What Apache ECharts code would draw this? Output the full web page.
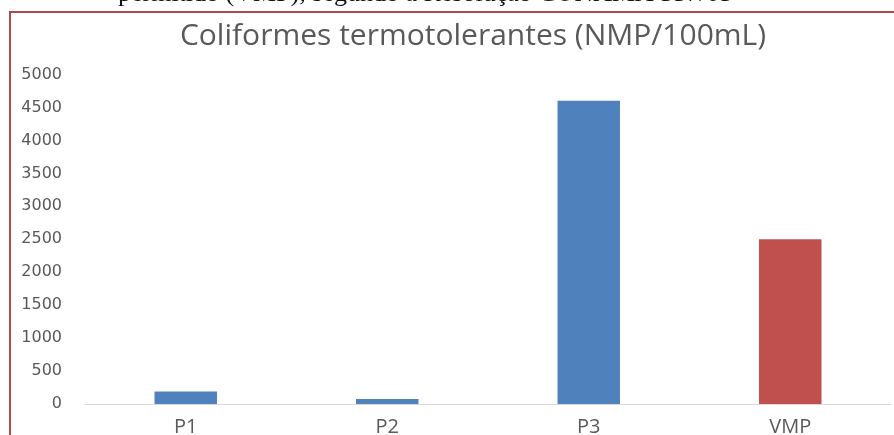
<!DOCTYPE html>
<html>
<head>
<meta charset="utf-8">
<script src="https://cdn.jsdelivr.net/npm/echarts@6/dist/echarts.min.js"></script>
<style>
html,body{margin:0;padding:0;background:#fff;}
#c{width:894px;height:435px;}
</style>
</head>
<body>
<div id="c"></div>
<script>
const categories = ['P1', 'P2', 'P3', 'VMP'];
const values = [190, 75, 4600, 2500];
const barColors = ['#4f81bd', '#4f81bd', '#4f81bd', '#c0504d'];
const yTicks = [0, 5000, 500];
const titleText = 'Coliformes termotolerantes (NMP/100mL)';
const captionText = 'permitido (VMP), segundo a Resolução CONAMA 357/05';

const chart = echarts.init(document.getElementById('c'), null, {renderer: 'canvas'});
chart.setOption({
  animation: false,
  backgroundColor: '#ffffff',
  title: {
    text: titleText,
    left: 468, top: 16, textAlign: 'center',
    textStyle: {fontFamily: 'Open Sans, sans-serif', fontSize: 30, fontWeight: 'normal', color: '#595959'}
  },
  graphic: [
    {type: 'rect', shape: {x: 10, y: 12, width: 900, height: 450}, style: {fill: 'none', stroke: '#b2484a', lineWidth: 2}, silent: true},
    {type: 'text', left: 118, top: -19, style: {text: captionText, font: '26px "Liberation Serif", serif', fill: '#111'}}
  ],
  grid: {left: 85, right: 3, top: 74.5, bottom: 31, containLabel: false, outerBoundsMode: 'none'},
  xAxis: {
    type: 'category', data: categories,
    axisLine: {show: true, lineStyle: {color: '#d9d9d9', width: 1}},
    axisTick: {show: false},
    axisLabel: {color: '#595959', fontSize: 20, margin: 13, fontFamily: 'Open Sans, sans-serif'}
  },
  yAxis: {
    type: 'value', min: yTicks[0], max: yTicks[1], interval: yTicks[2],
    axisLine: {show: false}, axisTick: {show: false},
    splitLine: {show: false},
    axisLabel: {color: '#595959', fontSize: 16, margin: 23, fontFamily: 'DejaVu Sans, sans-serif', formatter: v => String(v)}
  },
  series: [{
    type: 'bar', barWidth: '31%',
    data: values.map((v, i) => ({value: v, itemStyle: {color: barColors[i]}}))
  }]
});
</script>
</body>
</html>
